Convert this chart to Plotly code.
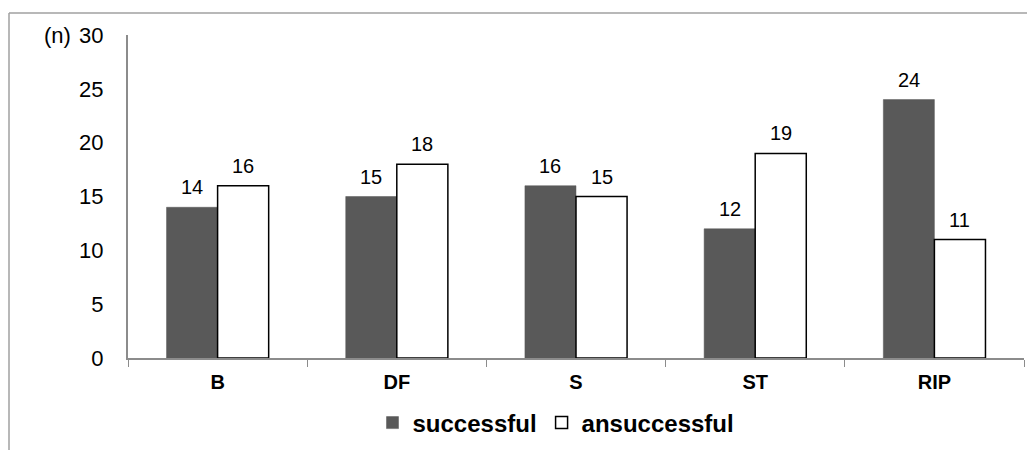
import plotly.graph_objects as go

categories = ["B", "DF", "S", "ST", "RIP"]
successful = [14, 15, 16, 12, 24]
ansuccessful = [16, 18, 15, 19, 11]
y_ticks = [0, 5, 10, 15, 20, 25, 30]

# page body has an 8px margin, so the figure is sized/offset accordingly
W, H = 1027, 442
L, R, T, B = 120, 11, 27, 92
pw = W - L - R
ph = H - T - B
FONT = "Arial, Liberation Sans, sans-serif"
BARGAP = 0.43
bar_px = pw / len(categories) * (1 - BARGAP) / 2

fig = go.Figure()
fig.add_trace(go.Bar(
    x=categories, y=successful, name="successful",
    marker=dict(color="#595959", line=dict(color="#595959", width=0.5)),
))
fig.add_trace(go.Bar(
    x=categories, y=ansuccessful, name="ansuccessful",
    marker=dict(color="white", line=dict(color="black", width=1.5)),
))

annotations = [
    dict(text="(n)", xref="paper", yref="paper",
         x=(49 - L) / pw, y=1, xanchor="center", yanchor="middle",
         showarrow=False, font=dict(size=22, color="black")),
]
for series, shift in ((successful, -bar_px / 2), (ansuccessful, bar_px / 2)):
    for c, v in zip(categories, series):
        annotations.append(dict(
            x=c, y=v, xref="x", yref="y", text=str(v), showarrow=False,
            xanchor="center", yanchor="bottom", xshift=shift, yshift=7,
            font=dict(family=FONT, size=20, color="black"),
        ))

fig.update_layout(
    width=W, height=H,
    margin=dict(l=L, r=R, t=T, b=B, pad=0, autoexpand=False),
    paper_bgcolor="white", plot_bgcolor="white",
    barmode="group", bargap=BARGAP, bargroupgap=0,
    font=dict(family=FONT, color="black"),
    showlegend=True,
    legend=dict(
        orientation="h", x=(548 - L) / pw, xanchor="center",
        y=-(415 - (H - B)) / ph, yanchor="middle",
        font=dict(size=24, weight="bold", color="black"),
        itemwidth=30, tracegroupgap=0,
    ),
    xaxis=dict(
        showline=True, linecolor="#8c8c8c", linewidth=2,
        ticks="outside", ticklen=7, tickcolor="#8c8c8c", tickwidth=1,
        tickson="boundaries",
        tickfont=dict(size=20, weight="bold", color="black"),
        ticklabelstandoff=5,
        showgrid=False, zeroline=False,
    ),
    yaxis=dict(
        range=[0, 30], tickvals=y_ticks,
        showline=True, linecolor="#8c8c8c", linewidth=2,
        ticks="", showgrid=False, zeroline=False,
        tickfont=dict(size=22, color="black"),
        ticklabelstandoff=18,
    ),
    shapes=[
        dict(type="line", xref="paper", yref="paper",
             x0=(1 - L) / pw, x1=(W - L) / pw + 0.01,
             y0=1 + (T - 5) / ph, y1=1 + (T - 5) / ph,
             line=dict(color="#a0a0a0", width=1.5)),
        dict(type="line", xref="paper", yref="paper",
             x0=(1 - L) / pw, x1=(1 - L) / pw,
             y0=1 + (T - 5) / ph, y1=-(B + 5) / ph,
             line=dict(color="#a0a0a0", width=1.5)),
    ],
    annotations=annotations,
)

fig.write_html("out.html")
